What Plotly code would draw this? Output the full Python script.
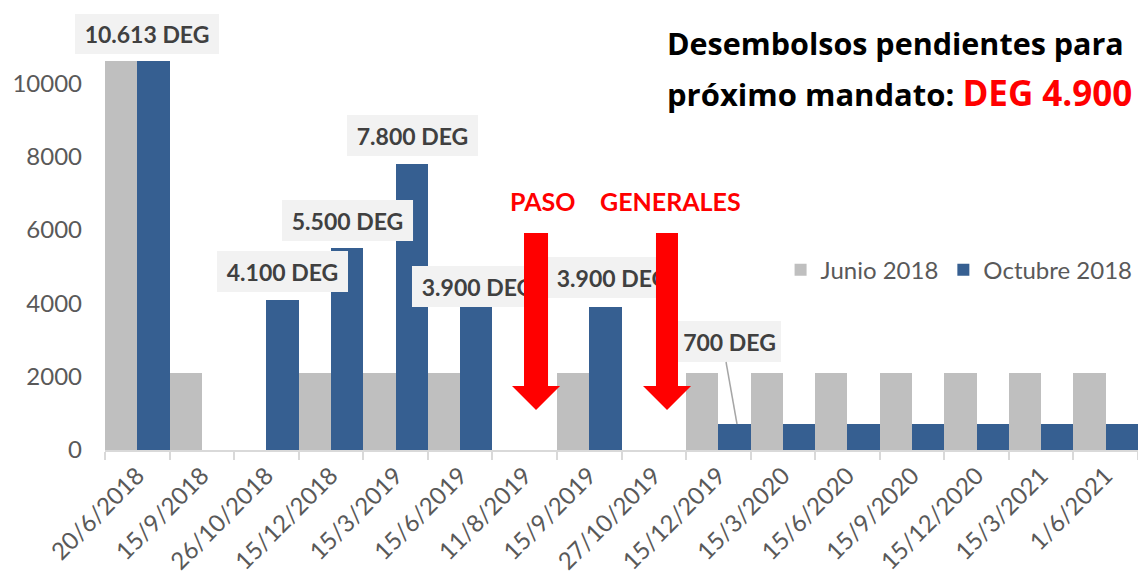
import plotly.graph_objects as go

categories = ["20/6/2018", "15/9/2018", "26/10/2018", "15/12/2018", "15/3/2019",
              "15/6/2019", "11/8/2019", "15/9/2019", "27/10/2019", "15/12/2019",
              "15/3/2020", "15/6/2020", "15/9/2020", "15/12/2020", "15/3/2021", "1/6/2021"]
junio_2018 = [10613, 2100, 0, 2100, 2100, 2100, 0, 2100, 0, 2100,
              2100, 2100, 2100, 2100, 2100, 2100]
octubre_2018 = [10613, 0, 4100, 5500, 7800, 3900, 0, 3900, 0, 700,
                700, 700, 700, 700, 700, 700]
series_names = ["Junio 2018", "Octubre 2018"]
y_ticks = [0, 2000, 4000, 6000, 8000, 10000]

label_texts = ["4.100 DEG", "5.500 DEG", "7.800 DEG",
               "3.900 DEG", "3.900 DEG", "700 DEG"]
# label box extents (category units, value units)
label_boxes = [(1.235, 3.264, 4309, 5427),
               (2.242, 4.271, 5700, 6818),
               (3.248, 5.277, 8018, 9136),
               (4.255, 6.284, 3900, 5018),
               (6.346, 8.375, 4145, 5264),
               (8.375, 9.971, 2400, 3518)]
first_label = "10.613 DEG"

GRAY = "#BFBFBF"
BLUE = "#365F91"
FONT = "Lato"
LABEL_FONT = dict(family=FONT, size=23, color="#404040", weight=700)

fig = go.Figure()
fig.add_trace(go.Bar(x=categories, y=junio_2018, name=series_names[0],
                     marker=dict(color=GRAY, line=dict(width=0))))
fig.add_trace(go.Bar(x=categories, y=octubre_2018, name=series_names[1],
                     marker=dict(color=BLUE, line=dict(width=0))))

shapes = []
# first label box extends left of the plot area -> paper coordinates
shapes.append(dict(type="rect", xref="paper", yref="paper", x0=-0.029, x1=0.1104,
                   y0=0.900, y1=0.991, fillcolor="#F2F2F2", line=dict(width=0),
                   layer="above",
                   label=dict(text=first_label, textposition="middle center", font=LABEL_FONT)))
for txt, (x0, x1, y0, y1) in zip(label_texts, label_boxes):
    shapes.append(dict(type="rect", xref="x", yref="y", x0=x0, x1=x1, y0=y0, y1=y1,
                       fillcolor="#F2F2F2", line=dict(width=0), layer="above",
                       label=dict(text=txt, textposition="middle center", font=LABEL_FONT)))
# leader line for 700 DEG
shapes.append(dict(type="line", xref="x", yref="y", x0=9.119, y0=2400, x1=9.289, y1=709,
                   line=dict(color="#A6A6A6", width=1.5), layer="above"))


def arrow(xl, xr, hl, hr, tip, top, sb, tipy):
    return (f"M{xl},{top} L{xr},{top} L{xr},{sb} L{hr},{sb} L{tip},{tipy} "
            f"L{hl},{sb} L{xl},{sb} Z")


shapes.append(dict(type="path", xref="x", yref="y",
                   path=arrow(5.990, 6.362, 5.804, 6.548, 6.176, 5918, 1745, 1091),
                   fillcolor="#FF0000", line=dict(width=0), layer="above"))
shapes.append(dict(type="path", xref="x", yref="y",
                   path=arrow(8.034, 8.375, 7.833, 8.577, 8.205, 5918, 1745, 1091),
                   fillcolor="#FF0000", line=dict(width=0), layer="above"))

TITLE_FONT = "Open Sans"
annotations = [
    dict(text="<b>Desembolsos pendientes para</b>", xref="paper", yref="paper",
         x=0.988, y=0.925, xanchor="right", yanchor="middle", showarrow=False,
         font=dict(family=TITLE_FONT, size=30.5, color="#000000")),
    dict(text="<b>próximo mandato: <span style='color:#FF0000;font-size:35px'>DEG 4.900</span></b>",
         xref="paper", yref="paper",
         x=0.996, y=0.813, xanchor="right", yanchor="middle", showarrow=False,
         font=dict(family=TITLE_FONT, size=31, color="#000000")),
    dict(text="<b>PASO</b>", xref="x", yref="y", x=6.28, y=6800,
         xanchor="center", yanchor="middle", showarrow=False,
         font=dict(family=FONT, size=25, color="#FF0000")),
    dict(text="<b>GENERALES</b>", xref="x", yref="y", x=8.26, y=6800,
         xanchor="center", yanchor="middle", showarrow=False,
         font=dict(family=FONT, size=25, color="#FF0000")),
]

fig.update_layout(
    width=1138, height=574,
    margin=dict(l=105, r=0, t=10, b=124, pad=0),
    paper_bgcolor="white", plot_bgcolor="white",
    barmode="group", bargap=0, bargroupgap=0,
    font=dict(family=FONT, size=24, color="#595959"),
    shapes=shapes, annotations=annotations,
    legend=dict(orientation="h", x=0.654, xanchor="left", y=0.409, yanchor="middle",
                bgcolor="rgba(0,0,0,0)", font=dict(family=FONT, size=24, color="#595959"),
                traceorder="normal"),
    xaxis=dict(type="category", range=[-0.5, 15.5], tickangle=-45,
               showline=True, linecolor="#D9D9D9", linewidth=2,
               ticks="outside", ticklen=8, tickcolor="#D9D9D9", tickwidth=2,
               tickson="boundaries", showgrid=False,
               tickfont=dict(family=FONT, size=24, color="#595959")),
    yaxis=dict(range=[0, 12000], tickvals=y_ticks, tickformat="d",
               showgrid=False, zeroline=False, showline=False, ticks="",
               ticklabelstandoff=22,
               tickfont=dict(family=FONT, size=24, color="#595959")),
)

# remove the default page margin so the 1138x574 figure fills the window exactly
fig.write_html("out.html", config={"displayModeBar": False},
               post_script="document.body.style.margin='0';document.body.style.overflow='hidden';")
